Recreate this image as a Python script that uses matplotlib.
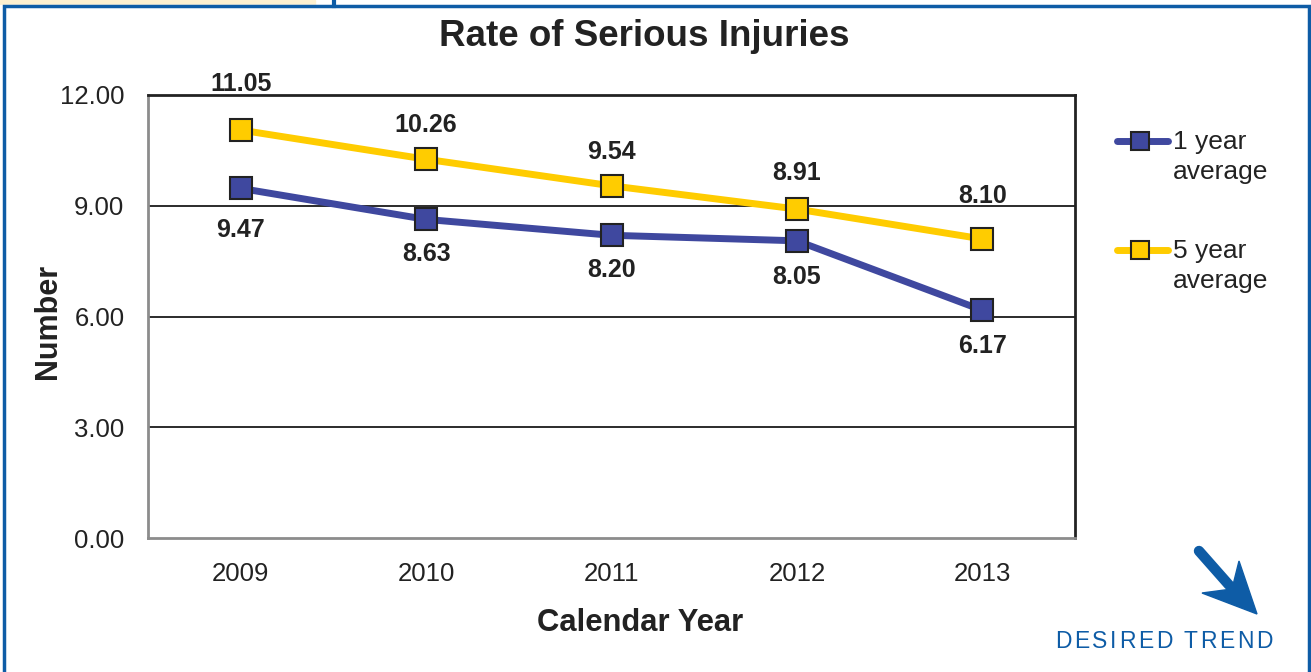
import matplotlib.pyplot as plt
from matplotlib.lines import Line2D
from matplotlib.patches import Rectangle, Polygon

plt.rcParams['font.family'] = ['Liberation Sans', 'DejaVu Sans']

years = ['2009', '2010', '2011', '2012', '2013']
one_year = [9.47, 8.63, 8.20, 8.05, 6.17]
five_year = [11.05, 10.26, 9.54, 8.91, 8.10]
y_ticks = [0, 3, 6, 9, 12]

blue = '#3f489f'
gold = '#ffcc00'
frame_blue = '#0e5ca6'
ink = '#222222'

# label offsets in points (below for 1 year, above for 5 year)
below_off = [-30, -25, -25, -26, -26]
above_off = [33, 25, 24, 26, 31]

fig = plt.figure(figsize=(13.11, 6.72), dpi=100)
W, H = 1311, 672


def fx(px):
    return px / W


def fy(py):
    return 1 - py / H


ax = fig.add_axes([fx(148), fy(538), fx(1075 - 148), (538 - 95) / H])

x = list(range(len(years)))
ax.plot(x, one_year, color=blue, lw=5, marker='s', ms=15.5, mfc=blue,
        mec=ink, mew=1.5, solid_capstyle='round', zorder=4)
ax.plot(x, five_year, color=gold, lw=5, marker='s', ms=15.5, mfc=gold,
        mec=ink, mew=1.5, solid_capstyle='round', zorder=4)

for i in x:
    ax.annotate(f'{one_year[i]:.2f}', (i, one_year[i]), xytext=(0, below_off[i]),
                textcoords='offset points', ha='center', va='center',
                fontsize=18, fontweight='bold', color=ink, annotation_clip=False)
    ax.annotate(f'{five_year[i]:.2f}', (i, five_year[i]), xytext=(0, above_off[i]),
                textcoords='offset points', ha='center', va='center',
                fontsize=18, fontweight='bold', color=ink, annotation_clip=False)

ax.set_xlim(-0.5, len(years) - 0.5)
ax.set_ylim(0, 12)
ax.set_xticks(x)
ax.set_xticklabels(years)
ax.set_yticks(y_ticks)
ax.set_yticklabels([f'{v:.2f}' for v in y_ticks])
ax.tick_params(length=0, labelsize=18.5, colors=ink)
ax.tick_params(axis='y', pad=17)
ax.tick_params(axis='x', pad=17)
for v in y_ticks[1:-1]:
    ax.axhline(v, color='#1a1a1a', lw=1.3, zorder=1)
ax.spines['top'].set_color(ink)
ax.spines['right'].set_color(ink)
ax.spines['left'].set_color('#8c8c8c')
ax.spines['bottom'].set_color('#8c8c8c')
for s in ax.spines.values():
    s.set_linewidth(2)

fig.text(fx(644), fy(36), 'Rate of Serious Injuries', fontsize=26.5, fontweight='bold',
         color=ink, ha='center', va='center')
fig.text(fx(640), fy(623), 'Calendar Year', fontsize=22.3, fontweight='bold', color=ink,
         ha='center', va='center')
fig.text(fx(48), fy(321), 'Number', fontsize=22, fontweight='bold', color=ink,
         ha='center', va='center', rotation=90)

# legend drawn by hand so the marker lines up with the first text line
leg_items = [(blue, '1 year\naverage', 141), (gold, '5 year\naverage', 250)]
for col, lab, yp in leg_items:
    fig.add_artist(Line2D([fx(1117), fx(1168)], [fy(yp), fy(yp)], color=col, lw=5,
                          solid_capstyle='round', transform=fig.transFigure))
    fig.add_artist(Line2D([fx(1140)], [fy(yp)], marker='s', ms=12.5, mfc=col, mec=ink,
                          mew=1.5, transform=fig.transFigure))
    fig.text(fx(1173), fy(yp - 11), lab, fontsize=19, color=ink,
             va='top', ha='left', linespacing=1.3)

# frame around the chart
fig.add_artist(Rectangle((0, 0), fx(315), 1, color='#fdf0d0', transform=fig.transFigure, zorder=-3))
fig.add_artist(Rectangle((0, 0), 1, fy(5), color='white', transform=fig.transFigure, zorder=-2))
fig.add_artist(Rectangle((fx(4), -0.02), fx(1305), fy(6) + 0.02, fill=False,
                         ec=frame_blue, lw=2.5, transform=fig.transFigure, zorder=-1))
fig.add_artist(Line2D([fx(334), fx(334)], [fy(6), 1], color=frame_blue, lw=3,
                      transform=fig.transFigure))

# desired trend arrow
fig.add_artist(Line2D([fx(1199), fx(1229)], [fy(551), fy(585)], color=frame_blue, lw=7.5,
                      solid_capstyle='round', transform=fig.transFigure))
head = [(1257, 614), (1202, 593), (1232, 589), (1239, 561)]
fig.add_artist(Polygon([(fx(a), fy(b)) for a, b in head], closed=True, color=frame_blue,
                       transform=fig.transFigure))

# letter-spaced caption
renderer = fig.canvas.get_renderer()
caption = 'DESIRED TREND'
tracking = 2.6
widths = []
for ch in caption:
    t = fig.text(0, 0, ch, fontsize=16.5)
    widths.append(t.get_window_extent(renderer).width)
    t.remove()
total = sum(widths) + tracking * (len(caption) - 1)
xpos = 1164 - total / 2
for ch, w in zip(caption, widths):
    fig.text(fx(xpos), fy(641), ch, fontsize=16.5, color=frame_blue, ha='left', va='center')
    xpos += w + tracking

fig.savefig('out.png', dpi=100)
